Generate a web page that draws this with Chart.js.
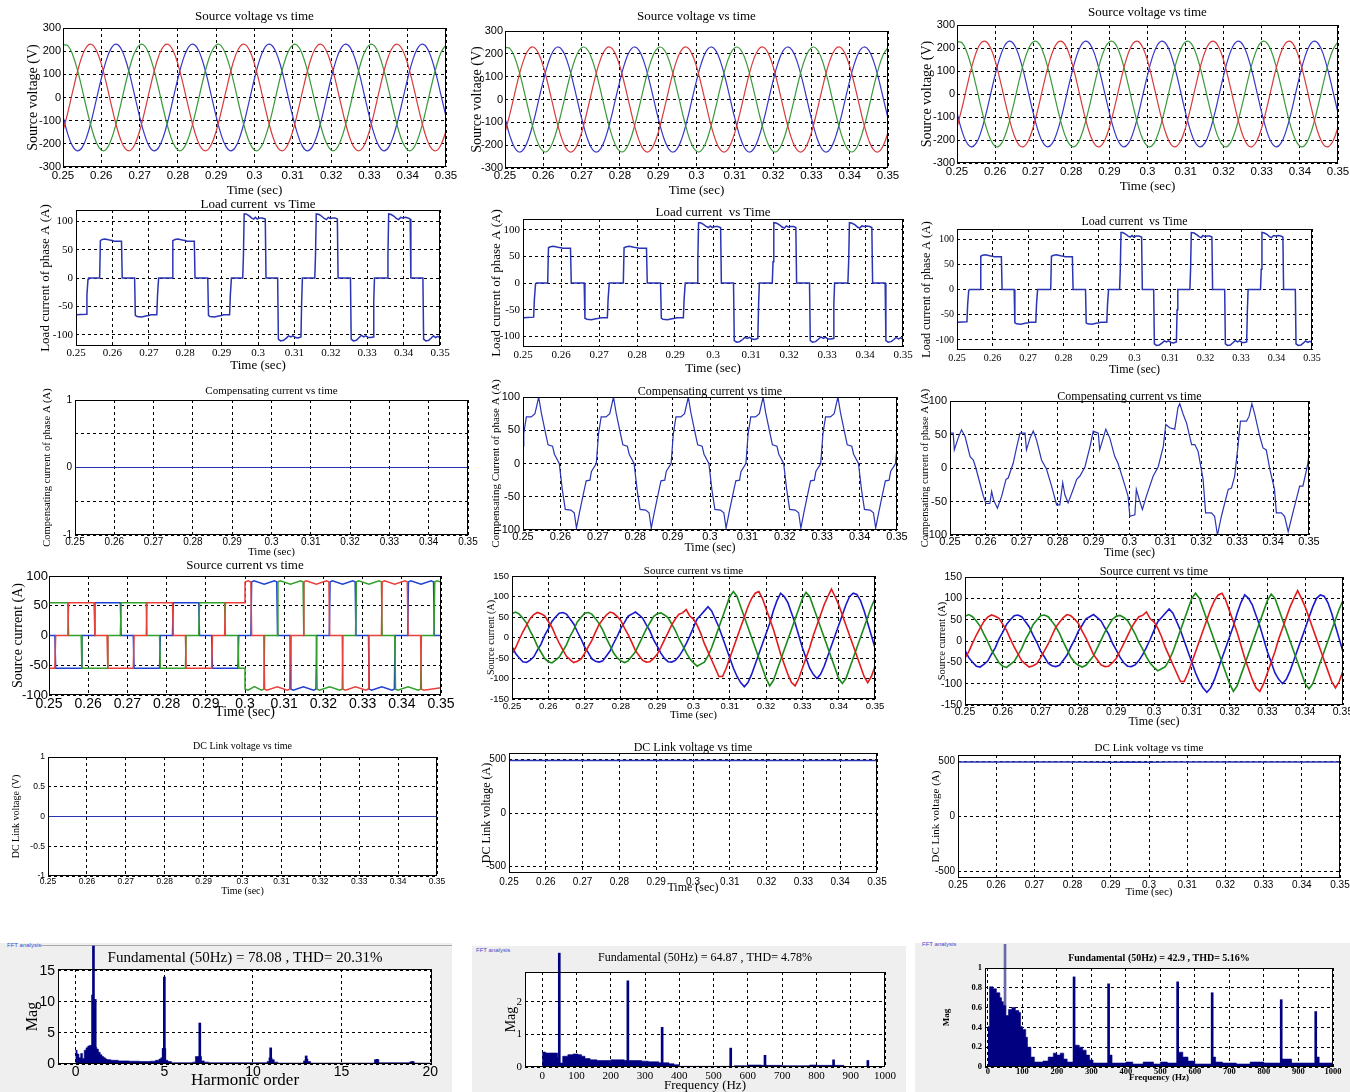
<!DOCTYPE html>
<html><head><meta charset="utf-8">
<script src="https://cdn.jsdelivr.net/npm/chart.js@4.4.1/dist/chart.umd.min.js"></script>
<style>
html,body{margin:0;padding:0;background:#fff;}
body{position:relative;width:1350px;height:1092px;overflow:hidden;}
canvas{position:absolute;}
.panel{position:absolute;background:#efefef;}
.lbl{position:absolute;font:6px 'Liberation Sans',Arial,sans-serif;color:#3a4ccc;line-height:6px;}
.hr{position:absolute;height:1px;background:#a8a8a8;}
</style></head><body>
<div class="panel" style="left:0;top:943px;width:452px;height:149px"></div>
<div class="panel" style="left:472px;top:946px;width:434px;height:146px"></div>
<div class="panel" style="left:915px;top:943px;width:435px;height:149px"></div>
<div class="lbl" style="left:7px;top:942px">FFT analysis</div>
<div class="hr" style="left:41px;top:945px;width:411px"></div>
<div class="lbl" style="left:476px;top:947px">FFT analysis</div>
<div class="lbl" style="left:922px;top:941px">FFT analysis</div>
<script>
// ---------- tick labels ----------
const tickTime = [0.25,0.26,0.27,0.28,0.29,0.3,0.31,0.32,0.33,0.34,0.35];
const tickTimeLbl = ['0.25','0.26','0.27','0.28','0.29','0.3','0.31','0.32','0.33','0.34','0.35'];
const tickV = [-300,-200,-100,0,100,200,300];
const tickVLbl = ['-300','-200','-100','0','100','200','300'];
const tickLoad = [-100,-50,0,50,100];
const tickLoadLbl = ['-100','-50','0','50','100'];
const tickUnit = [-1,-0.5,0,0.5,1];
const tickUnitLbl = ['-1','-0.5','0','0.5','1'];
const tickUnitLblC = ['-1','','0','','1'];
const tickSrc = [-150,-100,-50,0,50,100,150];
const tickSrcLbl = ['-150','-100','-50','0','50','100','150'];
const tickDC = [-500,0,500];
const tickDCLbl = ['-500','0','500'];
const tickHarm = [0,5,10,15,20];
const tickHarmLbl = ['0','5','10','15','20'];
const tickMagL = [0,5,10,15];
const tickMagLLbl = ['0','5','10','15'];
const tickFreq = [0,100,200,300,400,500,600,700,800,900,1000];
const tickFreqLbl = ['0','100','200','300','400','500','600','700','800','900','1000'];
const tickMagM = [0,1,2];
const tickMagMLbl = ['0','1','2'];
const tickMagR = [0,0.2,0.4,0.6,0.8,1];
const tickMagRLbl = ['0','0.2','0.4','0.6','0.8','1'];

// ---------- source voltage (V) ----------
const tV = [0.25,0.25125,0.2525,0.25375,0.255,0.25625,0.2575,0.25875,0.26,0.26125,0.2625,0.26375,0.265,0.26625,0.2675,0.26875,0.27,0.27125,0.2725,0.27375,0.275,0.27625,0.2775,0.27875,0.28,0.28125,0.2825,0.28375,0.285,0.28625,0.2875,0.28875,0.29,0.29125,0.2925,0.29375,0.295,0.29625,0.2975,0.29875,0.3,0.30125,0.3025,0.30375,0.305,0.30625,0.3075,0.30875,0.31,0.31125,0.3125,0.31375,0.315,0.31625,0.3175,0.31875,0.32,0.32125,0.3225,0.32375,0.325,0.32625,0.3275,0.32875,0.33,0.33125,0.3325,0.33375,0.335,0.33625,0.3375,0.33875,0.34,0.34125,0.3425,0.34375,0.345,0.34625,0.3475,0.34875,0.35];
const vGreen = [227,224,186,120,36,-54,-135,-196,-227,-224,-186,-120,-36,54,135,196,
227,224,186,120,36,-54,-135,-196,-227,-224,-186,-120,-36,54,135,196,
227,224,186,120,36,-54,-135,-196,-227,-224,-186,-120,-36,54,135,196,
227,224,186,120,36,-54,-135,-196,-227,-224,-186,-120,-36,54,135,196,
227,224,186,120,36,-54,-135,-196,-227,-224,-186,-120,-36,54,135,196,227];
const vRed = [-145,-65,24,110,179,221,229,202,145,65,-24,-110,-179,-221,-229,-202,
-145,-65,24,110,179,221,229,202,145,65,-24,-110,-179,-221,-229,-202,
-145,-65,24,110,179,221,229,202,145,65,-24,-110,-179,-221,-229,-202,
-145,-65,24,110,179,221,229,202,145,65,-24,-110,-179,-221,-229,-202,
-145,-65,24,110,179,221,229,202,145,65,-24,-110,-179,-221,-229,-202,-145];
const vBlue = [-82,-158,-210,-230,-215,-167,-94,-6,82,158,210,230,215,167,94,6,
-82,-158,-210,-230,-215,-167,-94,-6,82,158,210,230,215,167,94,6,
-82,-158,-210,-230,-215,-167,-94,-6,82,158,210,230,215,167,94,6,
-82,-158,-210,-230,-215,-167,-94,-6,82,158,210,230,215,167,94,6,
-82,-158,-210,-230,-215,-167,-94,-6,82,158,210,230,215,167,94,6,-82];

// ---------- load current of phase A (time, A) ----------
const loadPts = [[0.25,-65],[0.2528,-64],[0.2530,-30],[0.2533,-2],[0.2535,0],[0.2565,0],[0.2567,66],[0.2572,68],[0.2580,69],[0.2592,67],[0.2600,66],[0.2605,65],[0.2625,65],[0.2627,0],
[0.2661,0],[0.2663,-66],[0.2668,-68],[0.2680,-69],[0.2692,-67],[0.2700,-66],[0.2705,-65],[0.2722,-65],[0.2724,-30],[0.2727,0],
[0.2764,0],[0.2766,66],[0.2772,68],[0.2780,69],[0.2792,67],[0.2800,66],[0.2805,65],[0.2825,65],[0.2827,0],
[0.2862,0],[0.2864,-66],[0.2868,-68],[0.2880,-69],[0.2892,-67],[0.2900,-66],[0.2905,-65],[0.2922,-65],[0.2924,-30],[0.2927,0],
[0.2958,0],[0.2960,40],[0.2962,113],[0.2967,113],[0.2975,110],[0.2982,106],[0.2988,104],[0.2993,107],[0.2998,104],[0.3005,106],[0.3012,106],[0.3020,104],[0.3022,0],
[0.3054,0],[0.3056,-108],[0.3062,-111],[0.3070,-110],[0.3078,-106],[0.3084,-102],[0.3090,-104],[0.3096,-102],[0.3103,-105],[0.3110,-106],[0.3118,-104],[0.3120,-40],[0.3122,0],
[0.3156,0],[0.3158,40],[0.3160,113],[0.3168,112],[0.3175,109],[0.3182,105],[0.3188,103],[0.3193,107],[0.3198,105],[0.3205,106],[0.3212,106],[0.3218,104],[0.3220,0],
[0.3254,0],[0.3256,-108],[0.3262,-111],[0.3270,-110],[0.3278,-105],[0.3284,-101],[0.3290,-104],[0.3296,-102],[0.3303,-105],[0.3310,-105],[0.3316,-104],[0.3318,-40],[0.3320,0],
[0.3355,0],[0.3357,40],[0.3359,113],[0.3366,112],[0.3374,109],[0.3380,105],[0.3386,103],[0.3392,107],[0.3398,106],[0.3405,107],[0.3412,106],[0.3418,104],[0.3420,0],
[0.3453,0],[0.3455,-108],[0.3461,-111],[0.3469,-110],[0.3476,-106],[0.3482,-102],[0.3488,-105],[0.3494,-103],[0.3500,-105]];

// ---------- compensating current (time, A) ----------
const compLeft = [[0.25,0],[0.35,0]];
const compMid = [[0.25,26],[0.2502,45],[0.2509,70],[0.2522,70],[0.2532,75],[0.2542,100],[0.2549,76],[0.2562,41],[0.2567,28],[0.2579,26],[0.2584,14],[0.2597,0],[0.2605,-39],[0.2613,-69],[0.2628,-70],[0.2637,-74],[0.2643,-97],[0.2651,-74],[0.2664,-39],[0.2669,-26],[0.2679,-25],[0.2683,-12],[0.2696,0],
[0.2702,45],[0.2709,70],[0.2722,70],[0.2732,75],[0.2742,100],[0.2749,76],[0.2762,41],[0.2767,28],[0.2779,26],[0.2784,14],[0.2797,0],[0.2805,-39],[0.2813,-69],[0.2828,-70],[0.2837,-74],[0.2843,-97],[0.2851,-74],[0.2864,-39],[0.2869,-26],[0.2879,-25],[0.2883,-12],[0.2896,0],
[0.2902,45],[0.2909,70],[0.2922,70],[0.2932,75],[0.2942,100],[0.2949,76],[0.2962,41],[0.2967,28],[0.2979,26],[0.2984,14],[0.2997,0],[0.3005,-39],[0.3013,-69],[0.3028,-70],[0.3037,-74],[0.3043,-97],[0.3051,-74],[0.3064,-39],[0.3069,-26],[0.3079,-25],[0.3083,-12],[0.3096,0],
[0.3102,45],[0.3109,70],[0.3122,70],[0.3132,75],[0.3142,100],[0.3149,76],[0.3162,41],[0.3167,28],[0.3179,26],[0.3184,14],[0.3197,0],[0.3205,-39],[0.3213,-69],[0.3228,-70],[0.3237,-74],[0.3243,-97],[0.3251,-74],[0.3264,-39],[0.3269,-26],[0.3279,-25],[0.3283,-12],[0.3296,0],
[0.3302,45],[0.3309,70],[0.3322,70],[0.3332,75],[0.3342,100],[0.3349,76],[0.3362,41],[0.3367,28],[0.3379,26],[0.3384,14],[0.3397,0],[0.3405,-39],[0.3413,-69],[0.3428,-70],[0.3437,-74],[0.3443,-97],[0.3451,-74],[0.3464,-39],[0.3469,-26],[0.3479,-25],[0.3483,-12],[0.3496,0],[0.35,24]];
const compRight = [[0.25,52],[0.2509,52],[0.2512,27],[0.2523,45],[0.2532,57],[0.2542,47],[0.2556,17],[0.2565,12],[0.2572,0],[0.2583,-22],[0.2593,-42],[0.26,-53],[0.2611,-53],[0.2616,-35],[0.2621,-47],[0.2632,-60],[0.2644,-42],[0.2656,-17],[0.2662,-15],[0.2676,7],[0.2686,32],[0.2695,52],
[0.2709,52],[0.2713,27],[0.2723,45],[0.2732,55],[0.2741,42],[0.2755,12],[0.2769,-2],[0.2783,-27],[0.2797,-55],[0.2806,-55],[0.2814,-22],[0.2820,-40],[0.2829,-52],[0.2843,-32],[0.2853,-17],[0.2862,-12],[0.2876,2],[0.2890,32],[0.2899,55],
[0.2913,52],[0.2917,27],[0.2927,45],[0.2934,58],[0.2945,45],[0.2959,17],[0.2968,7],[0.2982,-17],[0.2996,-42],[0.3001,-72],[0.3015,-70],[0.3019,-32],[0.3027,-47],[0.3036,-62],[0.3047,-42],[0.3066,-12],[0.3080,2],[0.3094,32],[0.3101,65],
[0.3112,60],[0.3126,58],[0.3135,90],[0.3140,96],[0.3149,81],[0.3159,67],[0.3173,35],[0.3182,35],[0.3191,25],[0.3205,-17],[0.3212,-67],[0.3228,-67],[0.3237,-72],[0.3245,-100],[0.3256,-72],[0.3275,-32],[0.3284,-30],[0.3293,-12],[0.3302,32],[0.3309,70],
[0.3326,70],[0.3333,77],[0.3341,96],[0.3349,80],[0.3363,47],[0.3372,30],[0.3381,27],[0.3391,-2],[0.3404,-32],[0.3409,-67],[0.3423,-67],[0.3432,-72],[0.3442,-95],[0.3455,-67],[0.3474,-27],[0.3483,-27],[0.3497,7],[0.35,22]];

// ---------- source current, left (time, A) ----------
const srcLRed = [[0.25,-55],[0.2515,-55],[0.2517,0],[0.2548,0],[0.2550,55],[0.2615,55],[0.2617,0],[0.2648,0],[0.2650,-55],[0.2715,-55],[0.2717,0],[0.2748,0],[0.2750,55],[0.2815,55],[0.2817,0],[0.2848,0],[0.2850,-55],[0.2915,-55],[0.2917,0],[0.2948,0],[0.2950,55],[0.3,55],[0.3,90],[0.3008,92],[0.3015,90],[0.3017,0],
[0.3048,0],[0.3050,-90],[0.3056,-92],[0.3082,-86],[0.3108,-92],[0.3114,-90],[0.3116,0],[0.3148,0],[0.3150,90],[0.3156,92],[0.3182,86],[0.3208,92],[0.3214,90],[0.3216,0],
[0.3248,0],[0.3250,-90],[0.3256,-92],[0.3282,-86],[0.3308,-92],[0.3314,-90],[0.3316,0],[0.3348,0],[0.3350,90],[0.3356,92],[0.3382,86],[0.3408,92],[0.3414,90],[0.3416,0],
[0.3448,0],[0.3450,-90],[0.3456,-92],[0.35,-88]];
const srcLBlue = [[0.25,0],[0.2515,0],[0.2517,-55],[0.2582,-55],[0.2584,0],[0.2615,0],[0.2617,55],[0.2682,55],[0.2684,0],[0.2715,0],[0.2717,-55],[0.2782,-55],[0.2784,0],[0.2815,0],[0.2817,55],[0.2882,55],[0.2884,0],[0.2915,0],[0.2917,-55],[0.2982,-55],[0.2984,0],
[0.3015,0],[0.3017,90],[0.3023,92],[0.3049,86],[0.3075,92],[0.3081,90],[0.3083,0],[0.3115,0],[0.3117,-90],[0.3123,-92],[0.3149,-86],[0.3175,-92],[0.3181,-90],[0.3183,0],
[0.3215,0],[0.3217,90],[0.3223,92],[0.3249,86],[0.3275,92],[0.3281,90],[0.3283,0],[0.3315,0],[0.3317,-90],[0.3323,-92],[0.3349,-86],[0.3375,-92],[0.3381,-90],[0.3383,0],
[0.3415,0],[0.3417,90],[0.3423,92],[0.3449,86],[0.3475,92],[0.3481,90],[0.3483,0],[0.35,0]];
const srcLGreen = [[0.25,55],[0.2548,55],[0.2550,0],[0.2582,0],[0.2584,-55],[0.2648,-55],[0.2650,0],[0.2682,0],[0.2684,55],[0.2748,55],[0.2750,0],[0.2782,0],[0.2784,-55],[0.2848,-55],[0.2850,0],[0.2882,0],[0.2884,55],[0.2948,55],[0.2950,0],[0.2982,0],[0.2984,-55],[0.3,-55],[0.3,-90],[0.3008,-92],[0.3024,-86],[0.3042,-92],[0.3048,-90],[0.3050,0],
[0.3082,0],[0.3084,90],[0.3090,92],[0.3116,86],[0.3142,92],[0.3148,90],[0.3150,0],[0.3182,0],[0.3184,-90],[0.3190,-92],[0.3216,-86],[0.3242,-92],[0.3248,-90],[0.3250,0],
[0.3282,0],[0.3284,90],[0.3290,92],[0.3316,86],[0.3342,92],[0.3348,90],[0.3350,0],[0.3382,0],[0.3384,-90],[0.3390,-92],[0.3416,-86],[0.3442,-92],[0.3448,-90],[0.3450,0],
[0.3482,0],[0.3484,90],[0.3490,92],[0.35,90]];

// ---------- source current, compensated (time, A) ----------
const tI = [0.25,0.251,0.252,0.253,0.254,0.255,0.256,0.257,0.258,0.259,0.26,0.261,0.262,0.263,0.264,0.265,0.266,0.267,0.268,0.269,0.27,0.271,0.272,0.273,0.274,0.275,0.276,0.277,0.278,0.279,0.28,0.281,0.282,0.283,0.284,0.285,0.286,0.287,0.288,0.289,0.29,0.291,0.292,0.293,0.294,0.295,0.296,0.297,0.298,0.299,0.3,0.301,0.302,0.303,0.304,0.305,0.306,0.307,0.308,0.309,0.31,0.311,0.312,0.313,0.314,0.315,0.316,0.317,0.318,0.319,0.32,0.321,0.322,0.323,0.324,0.325,0.326,0.327,0.328,0.329,0.33,0.331,0.332,0.333,0.334,0.335,0.336,0.337,0.338,0.339,0.34,0.341,0.342,0.343,0.344,0.345,0.346,0.347,0.348,0.349,0.35];
const iGreen = [58,62,57,47,35,16,-1,-21,-36,-51,-59,-62,-55,-48,-33,-18,3,19,38,49,
59,61,57,46,34,18,-2,-20,-38,-50,-57,-61,-57,-46,-35,-16,2,21,36,51,
58,60,55,48,33,17,-3,-19,-37,-52,
-62,-70,-65,-60,-45,-25,0,25,50,75,100,112,100,75,50,25,0,-25,-50,-75,
-100,-118,-105,-80,-55,-30,-5,20,45,70,95,110,100,75,50,25,0,-25,-50,-75,
-100,-112,-100,-75,-50,-25,0,25,50,75,95];
const iRed = [-40,-25,-5,14,30,46,56,61,58,53,39,25,5,-14,-30,-46,-54,-61,-58,-53,
-39,-23,-7,13,32,44,55,62,59,51,41,23,7,-12,-32,-44,-56,-60,-59,-51,
-41,-24,-6,12,31,45,57,60,68,52,
45,30,10,-15,-35,-55,-75,-95,-95,-75,-50,-25,0,25,50,75,95,108,112,95,
70,45,20,-10,-40,-65,-90,-110,-118,-100,-75,-50,-25,5,30,55,80,100,118,100,
80,55,30,5,-20,-45,-70,-95,-110,-95,-70];
const iBlue = [-22,-39,-50,-59,-61,-55,-47,-31,-16,5,21,39,50,59,61,57,45,33,14,-3,
-23,-37,-52,-58,-60,-57,-45,-33,-14,3,23,37,52,57,62,55,47,31,16,-5,
-21,-38,-51,-59,-60,-56,-46,-32,-15,4,
25,45,55,65,75,65,45,25,0,-25,-50,-75,-95,-110,-120,-110,-90,-65,-40,-15,
10,35,65,90,108,100,85,60,35,5,-25,-50,-75,-90,-100,-90,-70,-45,-20,5,
30,55,80,100,108,105,90,65,35,5,-25];

// ---------- DC link voltage (time, V) ----------
const dcLeft = [[0.25,0],[0.35,0]];
const dcMid = [[0.25,490],[0.35,490]];
const dcRight = [[0.25,497],[0.28,496],[0.29,493],[0.295,497],[0.3,494],[0.305,497],[0.35,497]];

// ---------- FFT spectra ----------
const fftLCarpet = [[-0.02,2.2],[0.08,1.6],[0.18,1.0],[0.28,1.7],[0.38,0.9],[0.48,2.2],[0.58,2.6],[0.68,2.9],[0.78,3.0],[0.88,3.0],[1.08,2.7],[1.18,2.4],[1.28,1.9],[1.38,1.5],[1.48,1.2],[1.58,1.0],[1.68,0.8],[1.78,0.7],[1.98,0.6],[2.4,0.5],[3.0,0.45],[3.6,0.4],[4.2,0.45],[4.5,0.6],[4.7,0.8],[4.8,1.0],[4.88,2.5],[5.08,0.6],[5.2,0.4],[5.4,0.2],[6.6,0.3],[6.75,1.2],[7.1,0.5],[7.25,0.3],[7.5,0.2],[10.8,0.4],[10.9,1.0],[11.08,0.7],[11.2,0.3],[11.4,0.15],[12.85,0.5],[12.95,0.8],[13.1,0.4],[13.25,0.15],[16.85,0.7],[17.1,0.2],[18.85,0.35],[19.1,0.15],[20,0.15]];
const fftLSpikes = [[0.95,11.1],[1.0,19.0],[1.1,10.4],[4.95,2.5],[5.0,14.0],[7.0,6.6],[11.0,2.6],[13.0,1.3],[17.0,0.75],[19.0,0.4]];
const fftMCarpet = [[0,0.46],[10,0.43],[45,0.3],[50,0.12],[60,0.33],[75,0.38],[90,0.4],[105,0.38],[115,0.33],[125,0.26],[140,0.22],[160,0.2],[200,0.22],[240,0.2],[290,0.18],[310,0.16],[340,0.13],[370,0.1],[385,0.07],[400,0.02],[550,0.01],[560,0.04],[600,0.06],[640,0.05],[700,0.04],[780,0.06],[800,0.05],[880,0],[1000,0]];
const fftMSpikes = [[50,3.5],[250,2.65],[350,1.22],[550,0.58],[650,0.36],[850,0.22],[950,0.2]];
const fftRCarpet = [[0,0.41],[5,0.81],[15,0.79],[25,0.75],[35,0.7],[40,0.66],[45,0.62],[52,0.52],[60,0.58],[70,0.6],[80,0.57],[90,0.55],[95,0.41],[100,0.38],[110,0.3],[115,0.2],[125,0.1],[135,0.05],[160,0.06],[175,0.1],[190,0.14],[200,0.12],[210,0.14],[220,0.08],[230,0.05],[252,0.22],[265,0.2],[275,0.17],[285,0.12],[295,0.07],[305,0.04],[352,0.12],[360,0.04],[400,0.05],[420,0.03],[450,0.05],[480,0.03],[500,0.05],[520,0.04],[552,0.15],[565,0.1],[580,0.06],[600,0.03],[652,0.1],[660,0.05],[680,0.04],[720,0.03],[760,0.05],[800,0.04],[852,0.08],[880,0.04],[952,0.1],[960,0.04],[1000,0.04]];
const fftRSpikes = [[50,1.25],[250,0.91],[350,0.84],[550,0.86],[650,0.75],[850,0.68],[950,0.56]];

// ---------- rendering ----------
const SERIF = "'Liberation Serif','Times New Roman',serif";
const SANS = "'Liberation Sans',Arial,sans-serif";
const NAVY = '#000080';

Chart.register({
  id: 'box',
  beforeDraw(c, a, o) {
    if (o && o.bg) { const A = c.chartArea; c.ctx.save(); c.ctx.fillStyle = o.bg; c.ctx.fillRect(A.left, A.top, A.width, A.height); c.ctx.restore(); }
  },
  afterDraw(c) {
    const A = c.chartArea, ctx = c.ctx;
    ctx.save(); ctx.strokeStyle = '#000'; ctx.lineWidth = 1; ctx.setLineDash([]);
    ctx.strokeRect(Math.round(A.left) + 0.5, Math.round(A.top) + 0.5, Math.round(A.width) - 1, Math.round(A.height) - 1);
    ctx.restore();
  }
});

const zip = (t, v) => t.map((x, i) => [x, v[i]]);
const line = (data, color, w, extra) => Object.assign({data, borderColor: color, borderWidth: w || 1, pointRadius: 0, fill: false, tension: 0}, extra || {});
const carpet = data => ({data, stepped: 'before', fill: 'origin', backgroundColor: NAVY, borderColor: NAVY, borderWidth: 0.6, pointRadius: 0});
const spikes = (data, colors) => ({type: 'bar', data: data.map(p => ({x: p[0], y: p[1]})), backgroundColor: colors || NAVY, barThickness: 2, grouped: false, clip: false, borderWidth: 0});

function plot(o) {
  const yw = Math.round(o.l - o.yTitleX + 0.6 * o.yTitleSize + 2);
  const xh = Math.round(o.xTitleY - o.b + 0.6 * o.xTitleSize + 2);
  const th = Math.max(Math.round(2 * (o.t - o.titleY)), 4);
  const rp = o.rp || 24;
  const tp = o.tp || 0;
  const W = o.r - o.l + yw + rp, H = o.b - o.t + th + xh + tp;
  const cv = document.createElement('canvas');
  cv.width = W; cv.height = H;
  cv.style.left = (o.l - yw) + 'px'; cv.style.top = (o.t - th - tp) + 'px';
  cv.style.width = W + 'px'; cv.style.height = H + 'px';
  document.body.appendChild(cv);
  const xTickPad = o.xTickY - o.b - 0.6 * o.xTickSize;
  const wt = o.weight || 'normal';
  const grid = {color: '#000', lineWidth: 1, drawTicks: false, offset: false};
  new Chart(cv, {
    type: 'line',
    data: {datasets: o.datasets},
    options: {
      responsive: false, maintainAspectRatio: false, animation: false, events: [], devicePixelRatio: 1,
      layout: {padding: {left: 0, top: tp, right: rp, bottom: 0}},
      plugins: {
        legend: {display: false}, tooltip: {enabled: false},
        title: {display: true, text: o.title, fullSize: false, color: '#000', padding: 0,
          font: {family: SERIF, size: o.titleSize, weight: wt, lineHeight: th + 'px'}},
        box: {bg: o.bg || ''}
      },
      scales: {
        x: {type: 'linear', min: o.xMin, max: o.xMax, offset: false,
          afterFit: s => { s.height = xh; },
          afterBuildTicks: s => { s.ticks = o.xTicks.map(v => ({value: v})); },
          ticks: {autoSkip: false, maxRotation: 0, minRotation: 0, padding: xTickPad, color: '#000',
            font: {family: o.tickFont, size: o.xTickSize, weight: wt}, callback: (v, i) => o.xLabels[i]},
          grid: grid, border: {display: false, dash: [3, 3]},
          title: {display: true, text: o.xTitle, color: '#000', padding: {top: 0, bottom: 2},
            font: {family: SERIF, size: o.xTitleSize, weight: wt, lineHeight: 1.2}}
        },
        y: {type: 'linear', min: o.yMin, max: o.yMax,
          afterFit: s => { s.width = yw; },
          afterBuildTicks: s => { s.ticks = o.yTicks.map(v => ({value: v})); },
          ticks: {autoSkip: false, padding: o.yTickPad || 3, color: '#000',
            font: {family: o.tickFont, size: o.yTickSize || o.xTickSize, weight: wt}, callback: (v, i) => o.yLabels[i]},
          grid: grid, border: {display: false, dash: [3, 3]},
          title: {display: true, text: o.yTitle, color: '#000', padding: {top: 2, bottom: 0},
            font: {family: SERIF, size: o.yTitleSize, weight: wt, lineHeight: 1.2}}
        }
      }
    }
  });
}

const T = {xMin: 0.25, xMax: 0.35, xTicks: tickTime, xLabels: tickTimeLbl, xTitle: 'Time (sec)'};
const voltDS = () => [line(zip(tV, vRed), '#d83a3a', 1.2, {tension: 0.4}), line(zip(tV, vGreen), '#3a9a3a', 1.2, {tension: 0.4}), line(zip(tV, vBlue), '#3636c8', 1.2, {tension: 0.4})];
const V = Object.assign({}, T, {title: 'Source voltage vs time', titleSize: 13, yTitle: 'Source voltage (V)', yTitleSize: 14, xTitleSize: 13, tickFont: SANS, xTickSize: 11.5, yTickSize: 11, yTickPad: 2, yMin: -300, yMax: 300, yTicks: tickV, yLabels: tickVLbl});
plot(Object.assign({}, V, {l: 63, r: 446, t: 28, b: 167, titleY: 17, yTitleX: 33, xTitleY: 190, xTickY: 176, datasets: voltDS()}));
plot(Object.assign({}, V, {l: 505, r: 888, t: 31, b: 168, titleY: 17, yTitleX: 477, xTitleY: 190, xTickY: 176, datasets: voltDS()}));
plot(Object.assign({}, V, {l: 957, r: 1338, t: 25, b: 163, titleY: 13, yTitleX: 927, xTitleY: 186, xTickY: 172, datasets: voltDS()}));

const LD = Object.assign({}, T, {title: 'Load current  vs Time', titleSize: 13, yTitle: 'Load current of phase A (A)', yTitleSize: 13, xTitleSize: 13, tickFont: SERIF, xTickSize: 11, yMin: -120, yMax: 120, yTicks: tickLoad, yLabels: tickLoadLbl});
plot(Object.assign({}, LD, {l: 76, r: 440, t: 210, b: 346, titleY: 205, yTitleX: 46, xTitleY: 365, xTickY: 353, tp: 8, datasets: [line(loadPts, '#2a35b5', 1.5)]}));
plot(Object.assign({}, LD, {l: 523, r: 903, t: 219, b: 347, titleY: 213, yTitleX: 497, xTitleY: 368, xTickY: 355, tp: 8, datasets: [line(loadPts, '#2a35b5', 1.5)]}));
plot(Object.assign({}, LD, {l: 957, r: 1312, t: 229, b: 350, titleY: 222, yTitleX: 927, xTitleY: 370, xTickY: 358, tp: 6, titleSize: 12, yTitleSize: 12, xTitleSize: 12, xTickSize: 10, datasets: [line(loadPts, '#2a35b5', 1.5)]}));

plot(Object.assign({}, T, {l: 75, r: 468, t: 400, b: 535, titleY: 391, title: 'Compensating current vs time', titleSize: 11, yTitleX: 47, yTitle: 'Compensating current of phase A (A)', yTitleSize: 10.5, xTitleY: 552, xTitleSize: 11, xTickY: 542, tickFont: SANS, xTickSize: 10, tp: 10, yMin: -1, yMax: 1, yTicks: tickUnit, yLabels: tickUnitLblC, datasets: [line(compLeft, '#2a35b5', 1.2)]}));
plot(Object.assign({}, T, {l: 523, r: 897, t: 397, b: 530, titleY: 392, title: 'Compensating current vs time', titleSize: 12, yTitleX: 497, yTitle: 'Compensating Current of phase A (A)', yTitleSize: 11, xTitleY: 548, xTitleSize: 12, xTickY: 537, tickFont: SANS, xTickSize: 11, tp: 18, yMin: -100, yMax: 100, yTicks: tickLoad, yLabels: tickLoadLbl, datasets: [line(compMid, '#2a35b5', 1.2)]}));
plot(Object.assign({}, T, {l: 950, r: 1309, t: 401, b: 535, titleY: 397, title: 'Compensating current vs time', titleSize: 12, yTitleX: 925, yTitle: 'Compensating current of phase A (A)', yTitleSize: 10.5, xTitleY: 553, xTitleSize: 12, xTickY: 542, tickFont: SANS, xTickSize: 11, tp: 18, yMin: -100, yMax: 100, yTicks: tickLoad, yLabels: tickLoadLbl, datasets: [line(compRight, '#2a35b5', 1.2)]}));

plot(Object.assign({}, T, {l: 49, r: 441, t: 576, b: 695, titleY: 566, title: 'Source current vs time', titleSize: 13, yTitleX: 18, yTitle: 'Source current (A)', yTitleSize: 14, xTitleY: 713, xTitleSize: 14, xTickY: 704, tickFont: SANS, xTickSize: 14, yTickSize: 13, yTickPad: 1, yMin: -100, yMax: 100, yTicks: tickLoad, yLabels: tickLoadLbl,
  datasets: [line(srcLRed, '#e8413c', 1.5), line(srcLGreen, '#33a02c', 1.5), line(srcLBlue, '#2040d0', 1.5)]}));
const srcDS = () => [line(zip(tI, iRed), '#e31a1c', 1.6), line(zip(tI, iGreen), '#1b8a1b', 1.6), line(zip(tI, iBlue), '#1a1acc', 1.6)];
plot(Object.assign({}, T, {l: 512, r: 875, t: 576, b: 699, titleY: 571, title: 'Source current vs time', titleSize: 11, yTitleX: 491, yTitle: 'Source current (A)', yTitleSize: 10, xTitleY: 715, xTitleSize: 11, xTickY: 706, tickFont: SANS, xTickSize: 9.5, yMin: -150, yMax: 150, yTicks: tickSrc, yLabels: tickSrcLbl, datasets: srcDS()}));
plot(Object.assign({}, T, {l: 965, r: 1343, t: 577, b: 705, titleY: 572, title: 'Source current vs time', titleSize: 12, yTitleX: 942, yTitle: 'Source current (A)', yTitleSize: 10.5, xTitleY: 722, xTitleSize: 12, xTickY: 712, tickFont: SANS, xTickSize: 10.5, yMin: -150, yMax: 150, yTicks: tickSrc, yLabels: tickSrcLbl, datasets: srcDS()}));

plot(Object.assign({}, T, {l: 48, r: 437, t: 757, b: 876, titleY: 746, title: 'DC Link voltage vs time', titleSize: 10, yTitleX: 16, yTitle: 'DC Link voltage (V)', yTitleSize: 10, xTitleY: 891, xTitleSize: 10, xTickY: 882, tickFont: SANS, xTickSize: 8.5, yMin: -1, yMax: 1, yTicks: tickUnit, yLabels: tickUnitLbl, datasets: [line(dcLeft, '#2a35b5', 1.2)]}));
plot(Object.assign({}, T, {l: 509, r: 877, t: 753, b: 873, titleY: 748, title: 'DC Link voltage vs time', titleSize: 12, yTitleX: 487, yTitle: 'DC Link voltage (A)', yTitleSize: 12, xTitleY: 888, xTitleSize: 12, xTickY: 882, tickFont: SANS, xTickSize: 10, tp: 8, yMin: -560, yMax: 560, yTicks: tickDC, yLabels: tickDCLbl, datasets: [line(dcMid, '#2a35b5', 1.5)]}));
plot(Object.assign({}, T, {l: 958, r: 1340, t: 755, b: 878, titleY: 748, title: 'DC Link voltage vs time', titleSize: 11, yTitleX: 937, yTitle: 'DC Link voltage (A)', yTitleSize: 11, xTitleY: 892, xTitleSize: 11, xTickY: 885, tickFont: SANS, xTickSize: 10, tp: 6, yMin: -560, yMax: 560, yTicks: tickDC, yLabels: tickDCLbl, datasets: [line(dcRight, '#2a35b5', 1.5)]}));

plot({l: 58, r: 432, t: 969, b: 1064, titleY: 958, title: 'Fundamental (50Hz) = 78.08 , THD= 20.31%', titleSize: 15, yTitleX: 33, yTitle: 'Mag', yTitleSize: 16, xTitleY: 1081, xTitle: 'Harmonic order', xTitleSize: 17, xTickY: 1072, tickFont: SANS, xTickSize: 14, xMin: -1, xMax: 20.1, yMin: 0, yMax: 15.3, xTicks: tickHarm, xLabels: tickHarmLbl, yTicks: tickMagL, yLabels: tickMagLLbl, bg: '#fff', rp: 16, tp: 2,
  datasets: [carpet(fftLCarpet), spikes(fftLSpikes)]});
plot({l: 525, r: 885, t: 972, b: 1067, titleY: 958, title: 'Fundamental (50Hz) = 64.87 , THD= 4.78%', titleSize: 12, yTitleX: 511, yTitle: 'Mag', yTitleSize: 14, xTitleY: 1085, xTitle: 'Frequency (Hz)', xTitleSize: 13, xTickY: 1076, tickFont: SERIF, xTickSize: 11, xMin: -50, xMax: 1000, yMin: 0, yMax: 2.92, xTicks: tickFreq, xLabels: tickFreqLbl, yTicks: tickMagM, yLabels: tickMagMLbl, bg: '#fff', rp: 16, tp: 4,
  datasets: [carpet(fftMCarpet), spikes(fftMSpikes)]});
plot({l: 985, r: 1333, t: 968, b: 1067, titleY: 958, title: 'Fundamental (50Hz) = 42.9 , THD= 5.16%', titleSize: 10, weight: 'bold', yTitleX: 946, yTitle: 'Mag', yTitleSize: 9, xTitleY: 1078, xTitle: 'Frequency (Hz)', xTitleSize: 9, xTickY: 1072, tickFont: SERIF, xTickSize: 8.5, xMin: -8, xMax: 1000, yMin: 0, yMax: 1, xTicks: tickFreq, xLabels: tickFreqLbl, yTicks: tickMagR, yLabels: tickMagRLbl, bg: '#fff', rp: 14, tp: 4,
  datasets: [carpet(fftRCarpet), spikes(fftRSpikes, ['#6a6aa8', NAVY, NAVY, NAVY, NAVY, NAVY, NAVY])]});
</script>
</body></html>
